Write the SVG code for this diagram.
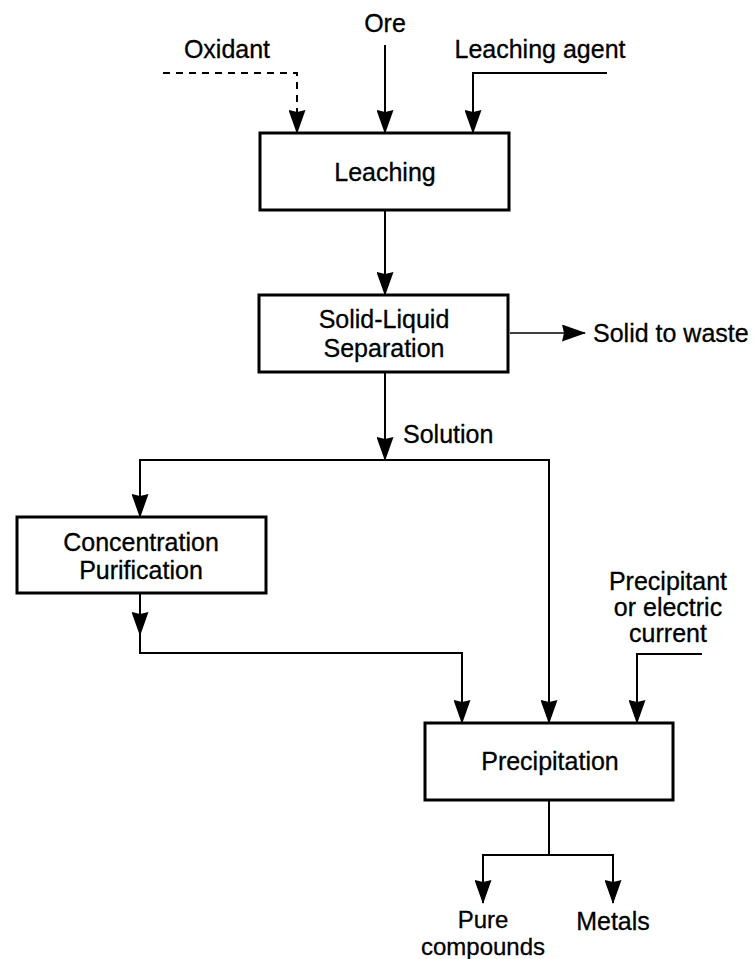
<svg xmlns="http://www.w3.org/2000/svg" width="755" height="959" viewBox="0 0 755 959">
<style>
.t{font-family:"Liberation Sans",Arial,sans-serif;font-size:25px;fill:#000;text-anchor:middle;stroke:#000;stroke-width:0.3}
.b{fill:#fff;stroke:#000;stroke-width:3}
.c{fill:none;stroke:#000;stroke-width:2}
.h{fill:none;stroke:#000;stroke-width:1.5}
</style>
<defs>
<marker id="ah" viewBox="0 0 24 17" refX="23" refY="8.5" markerWidth="24" markerHeight="17" markerUnits="userSpaceOnUse" orient="auto">
<path d="M0,0 L24,8.5 L0,17 L2,8.5 z" fill="#000"/>
</marker>
</defs>
<rect width="755" height="959" fill="#fff"/>
<g id="connectors">
<path class="c" d="M163,73 H297 V133" stroke-dasharray="7 6" marker-end="url(#ah)"/>
<path class="c" d="M385,45 V133" marker-end="url(#ah)"/>
<path class="c" d="M607,73 H473 V133" marker-end="url(#ah)"/>
<path class="c" d="M385,210 V295" marker-end="url(#ah)"/>
<path class="h" d="M510,333 H585" stroke-width="1" marker-end="url(#ah)"/>
<path class="c" d="M385,372 V460" marker-end="url(#ah)"/>
<path class="c" d="M385,460 H140 V517" marker-end="url(#ah)"/>
<path class="c" d="M385,460 H549 V723" marker-end="url(#ah)"/>
<path class="c" d="M140,593 V635" marker-end="url(#ah)"/>
<path class="c" d="M140,633 V653 H462 V723" marker-end="url(#ah)"/>
<path class="c" d="M702,654 H637 V723" marker-end="url(#ah)"/>
<path class="c" d="M549,800 V855"/>
<path class="c" d="M549,855 H483 V903" marker-end="url(#ah)"/>
<path class="c" d="M549,855 H613 V903" marker-end="url(#ah)"/>
</g>
<g id="ore"><text class="t" x="385" y="32">Ore</text></g>
<g id="oxidant"><text class="t" x="227" y="58">Oxidant</text></g>
<g id="leaching-agent"><text class="t" x="540" y="58">Leaching agent</text></g>
<g id="leaching">
<rect class="b" x="260" y="133" width="249" height="77"/>
<text class="t" x="385" y="181">Leaching</text>
</g>
<g id="solid-liquid">
<rect class="b" x="259" y="295" width="249" height="77"/>
<text class="t" x="384" y="328">Solid-Liquid</text>
<text class="t" x="384" y="357">Separation</text>
</g>
<g id="solid-waste"><text class="t" x="593" y="342" style="text-anchor:start">Solid to waste</text></g>
<g id="solution"><text class="t" x="403" y="443" style="text-anchor:start">Solution</text></g>
<g id="concentration">
<rect class="b" x="17" y="517" width="249" height="76"/>
<text class="t" x="141" y="551">Concentration</text>
<text class="t" x="141" y="579">Purification</text>
</g>
<g id="precipitant">
<text class="t" x="668" y="590">Precipitant</text>
<text class="t" x="668" y="616">or electric</text>
<text class="t" x="668" y="642">current</text>
</g>
<g id="precipitation">
<rect class="b" x="425" y="723" width="248" height="77"/>
<text class="t" x="550" y="770">Precipitation</text>
</g>
<g id="pure-compounds">
<text class="t" x="483" y="928" style="font-size:24px">Pure</text>
<text class="t" x="483" y="955" style="font-size:24px">compounds</text>
</g>
<g id="metals"><text class="t" x="613" y="930">Metals</text></g>
</svg>
